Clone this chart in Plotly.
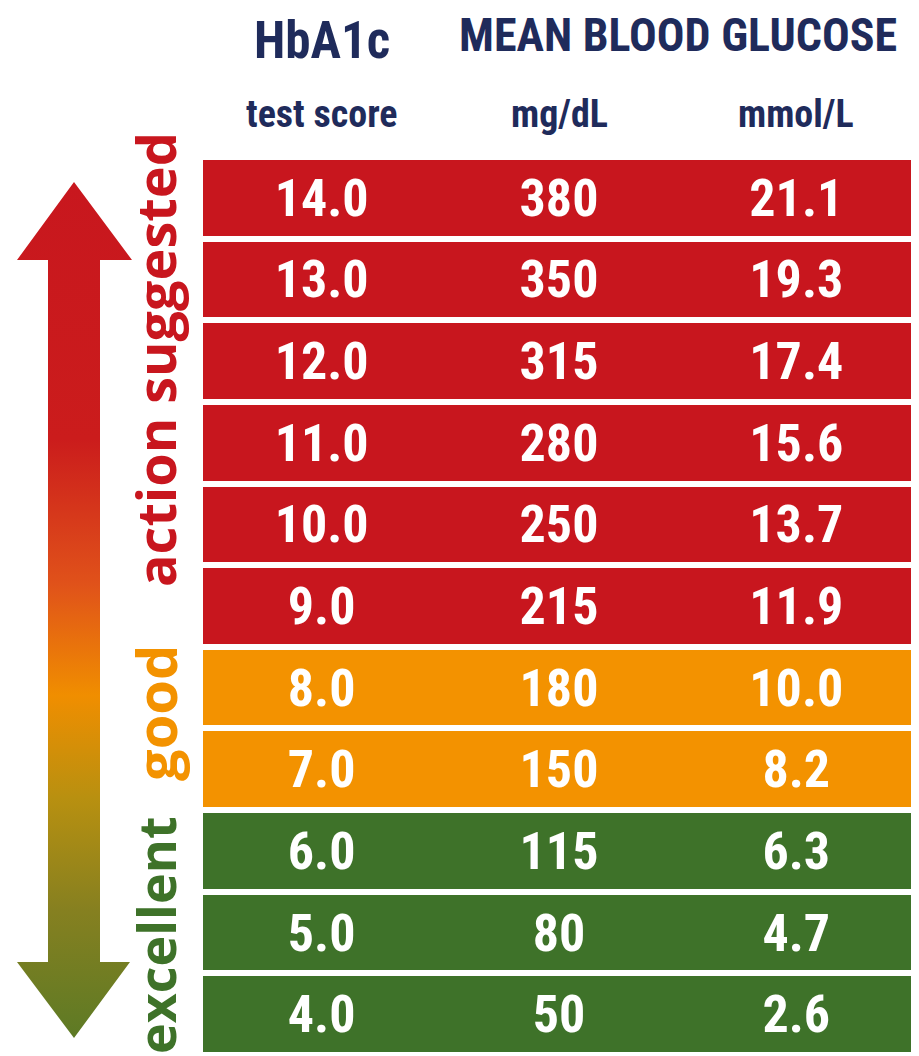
import plotly.graph_objects as go

# ---- data ----
hba1c = [14.0, 13.0, 12.0, 11.0, 10.0, 9.0, 8.0, 7.0, 6.0, 5.0, 4.0]
mg_dl = [380, 350, 315, 280, 250, 215, 180, 150, 115, 80, 50]
mmol_l = [21.1, 19.3, 17.4, 15.6, 13.7, 11.9, 10.0, 8.2, 6.3, 4.7, 2.6]
zone = ["action suggested"] * 6 + ["good"] * 2 + ["excellent"] * 3
zone_names = ["action suggested", "good", "excellent"]
zone_colors = {"action suggested": "#C8161E", "good": "#F39200", "excellent": "#3E7229"}
col_headers = ["test score", "mg/dL", "mmol/L"]

# page is offset by the browser's 8px body margin; work in page pixels
PAGE_W, PAGE_H, OFF = 919, 1056, 8
W, H = PAGE_W - OFF, PAGE_H - OFF


def px_x(p):
    return (p - OFF) / W


def px_y(p):
    return 1 - (p - OFF) / H


NARROW = "Roboto Condensed, Liberation Sans Narrow, DejaVu Sans Condensed, sans-serif"
WIDE = "Open Sans, Noto Sans, DejaVu Sans, sans-serif"
NAVY = "#1F2B5B"
TABLE_TOP, TABLE_BOTTOM = 157, 1055
n_rows = len(hba1c)
row_pitch = (TABLE_BOTTOM - TABLE_TOP) / n_rows
d = 5 / row_pitch  # shift cell text down by ~5px

fig = go.Figure()

# ---- gradient double arrow (decoration) ----
ax = [74, 132, 100, 100, 130, 74, 17, 48, 48, 17, 74]
ay = [182, 260, 260, 962, 962, 1038, 962, 962, 260, 260, 182]
fig.add_trace(go.Scatter(
    x=ax, y=ay, mode="lines", fill="toself", line=dict(width=0),
    fillgradient=dict(type="vertical", start=182, stop=1038,
                      colorscale=[[0.0, "#C8171E"], [0.3, "#CB1C1C"], [0.47, "#E0521A"],
                                  [0.6, "#F08E00"], [0.72, "#B89010"], [0.85, "#868020"],
                                  [1.0, "#5D7A25"]]),
    hoverinfo="skip", showlegend=False, xaxis="x", yaxis="y"))

# ---- table rows ----
labels = [f"{v:.1f}" for v in hba1c]
fig.add_trace(go.Bar(
    x=[3] * n_rows, y=labels, base=0, orientation="h", width=0.926,
    marker=dict(color=[zone_colors[z] for z in zone], line=dict(width=0)),
    hoverinfo="skip", showlegend=False, xaxis="x2", yaxis="y2"))

for ci, col in enumerate([[f"{v:.1f}" for v in hba1c], [str(v) for v in mg_dl],
                          [f"{v:.1f}" for v in mmol_l]]):
    fig.add_trace(go.Scatter(
        x=[ci + 0.5] * len(col), y=labels, mode="text", text=col,
        textposition="middle center",
        textfont=dict(family=NARROW, size=52, color="white", weight=700),
        hoverinfo="skip", showlegend=False, xaxis="x2", yaxis="y3"))

# ---- headers ----
ann = []
ann.append(dict(x=0.5, y=40, xref="x2", yref="y", text="HbA1c", showarrow=False,
                font=dict(family=NARROW, size=51, color=NAVY, weight=700)))
ann.append(dict(x=2.0, y=35, xref="x2", yref="y", text="MEAN BLOOD GLUCOSE", showarrow=False,
                font=dict(family=NARROW, size=46, color=NAVY, weight=700)))
for ci, h in enumerate(col_headers):
    ann.append(dict(x=ci + 0.5, y=114, xref="x2", yref="y", text=h, showarrow=False,
                    font=dict(family=NARROW, size=38, color=NAVY, weight=700)))

# ---- zone labels ----
zone_label_y = {"action suggested": 360, "good": 713, "excellent": 936}
zone_label_size = {"action suggested": 54, "good": 56, "excellent": 52}
for z in zone_names:
    ann.append(dict(x=155, y=zone_label_y[z], xref="x", yref="y", text=z, showarrow=False,
                    textangle=-90,
                    font=dict(family=WIDE, size=zone_label_size[z], color=zone_colors[z],
                              weight=700)))

fig.update_layout(
    width=W, height=H, margin=dict(l=0, r=0, t=0, b=0),
    paper_bgcolor="white", plot_bgcolor="white",
    xaxis=dict(range=[OFF, PAGE_W], visible=False, domain=[0, 1], fixedrange=True),
    yaxis=dict(range=[PAGE_H, OFF], visible=False, domain=[0, 1], fixedrange=True),
    xaxis2=dict(range=[0, 3], visible=False, domain=[px_x(203), px_x(915)], anchor="y2",
                fixedrange=True),
    yaxis2=dict(range=[n_rows - 0.5, -0.5], visible=False, type="category",
                domain=[px_y(TABLE_BOTTOM), px_y(TABLE_TOP)], anchor="x2", fixedrange=True),
    yaxis3=dict(range=[n_rows - 0.5 - d, -0.5 - d], visible=False, type="category",
                overlaying="y2", anchor="x2", fixedrange=True),
    annotations=ann, showlegend=False, bargap=0,
)

fig.write_html("out.html")
